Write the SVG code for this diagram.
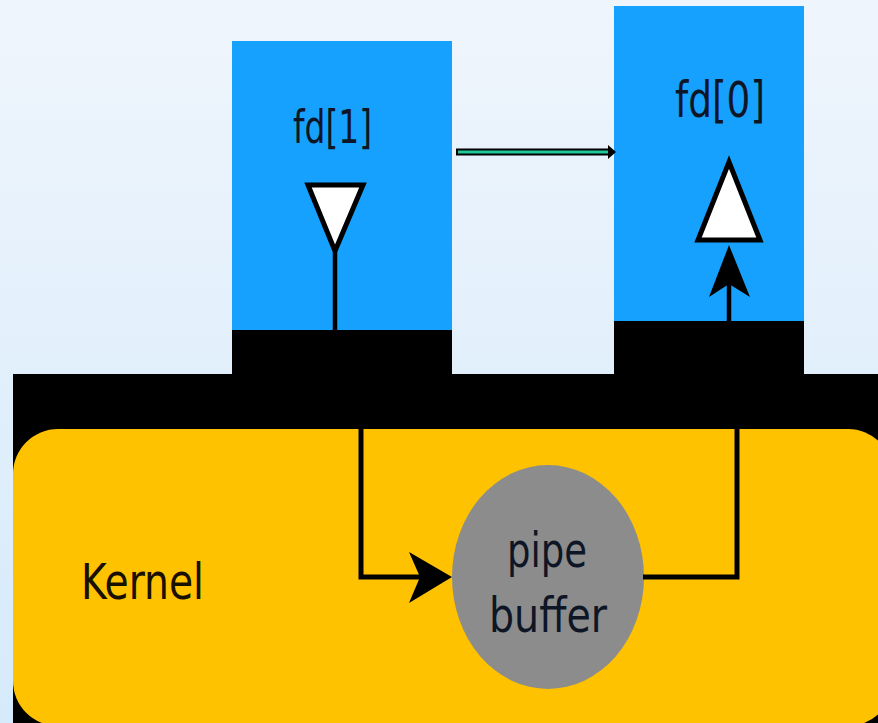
<svg xmlns="http://www.w3.org/2000/svg" width="878" height="723" viewBox="0 0 878 723">
  <defs>
    <linearGradient id="bg" x1="0" y1="0" x2="0" y2="1">
      <stop offset="0" stop-color="#eff5fc"/>
      <stop offset="1" stop-color="#d5eafb"/>
    </linearGradient>
    <style>
      .lbl { font-family: "DejaVu Sans Condensed", "DejaVu Sans", "Liberation Sans Narrow", sans-serif; fill: #0e1626; }
      .blue { fill: #17a1fe; }
      .cap { fill: #000000; }
      .wire { fill: none; stroke: #000000; stroke-width: 5; }
      .tri { fill: #ffffff; stroke: #000000; stroke-width: 5; stroke-linejoin: miter; }
    </style>
  </defs>
  <rect x="0" y="0" width="878" height="723" fill="url(#bg)"/>

  <g id="kernel">
    <rect x="13" y="374" width="865" height="349" fill="#000000"/>
    <rect x="13" y="429" width="880" height="297" rx="45" ry="45" fill="#ffc200"/>
    <text class="lbl" x="81" y="599" font-size="49" textLength="123" lengthAdjust="spacingAndGlyphs" style="fill:#1a1000">Kernel</text>
  </g>

  <g id="fd1">
    <rect class="blue" x="232" y="41" width="220" height="290"/>
    <rect class="cap" x="232" y="330" width="220" height="44"/>
    <text class="lbl" x="293" y="143" font-size="46" textLength="79" lengthAdjust="spacingAndGlyphs">fd[1]</text>
    <polygon class="tri" points="308,185 363,185 335,251"/>
    <line x1="335" y1="252" x2="335" y2="331" stroke="#000" stroke-width="4.5"/>
  </g>

  <g id="fd0">
    <rect class="blue" x="614" y="6" width="190" height="316"/>
    <rect class="cap" x="614" y="321" width="190" height="53"/>
    <text class="lbl" x="675" y="117" font-size="50" textLength="90" lengthAdjust="spacingAndGlyphs">fd[0]</text>
    <polygon class="tri" points="729,162 760,240 698,240"/>
    <polygon points="729,245 750,297 729,284 709,297" fill="#000"/>
    <line x1="729" y1="284" x2="729" y2="322" stroke="#000" stroke-width="4.5"/>
  </g>

  <g id="pipe-buffer">
    <ellipse cx="548" cy="577" rx="96" ry="112" fill="#8c8c8c"/>
    <text class="lbl" x="507" y="567" font-size="48" textLength="80" lengthAdjust="spacingAndGlyphs">pipe</text>
    <text class="lbl" x="489" y="632" font-size="48" textLength="118" lengthAdjust="spacingAndGlyphs">buffer</text>
  </g>

  <g id="connectors">
    <line x1="456" y1="152" x2="611" y2="152" stroke="#000" stroke-width="7"/>
    <line x1="458" y1="152" x2="611" y2="152" stroke="#20c997" stroke-width="3"/>
    <polygon points="608,145 616,152 608,159" fill="#000"/>
    <path class="wire" d="M361,429 V577 H425"/>
    <polygon points="452,577 409,552 420,577 409,603" fill="#000"/>
    <path class="wire" d="M643,577 H737 V429"/>
  </g>
</svg>
